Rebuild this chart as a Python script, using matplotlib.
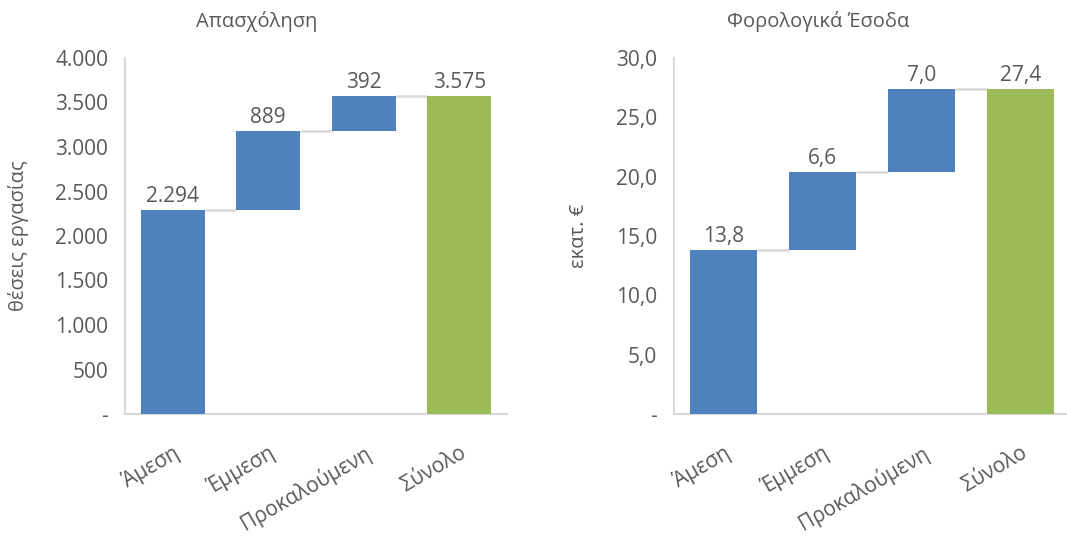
import matplotlib
matplotlib.use("Agg")
import matplotlib.pyplot as plt
from matplotlib.ticker import FuncFormatter

plt.rcParams['font.family'] = ['Open Sans', 'Noto Sans', 'DejaVu Sans']

categories = ["Άμεση", "Έμμεση", "Προκαλούμενη", "Σύνολο"]
jobs_steps = [2294, 889, 392]
jobs_total = 3575
tax_steps = [13.8, 6.6, 7.0]
tax_total = 27.4

title_jobs = "Απασχόληση"
title_tax = "Φορολογικά Έσοδα"
ylabel_jobs = "θέσεις εργασίας"
ylabel_tax = "εκατ. €"

BLUE = "#4F81BD"
GREEN = "#9BBB59"
TXT = "#595959"
GRID = "#D9D9D9"

W, H = 1067, 549
fig = plt.figure(figsize=(W / 100, H / 100), dpi=100)


def fmt_int(v):
    return f"{int(round(v)):,}".replace(",", ".")


def fmt_dec(v):
    return f"{v:.1f}".replace(".", ",")


def waterfall(ax, steps, total, ymax, ystep, fmt, ylabel):
    bw = 0.67
    bottoms = []
    cum = 0
    for s in steps:
        bottoms.append(cum)
        cum += s
    xs = list(range(len(steps) + 1))
    heights = list(steps) + [total]
    bots = bottoms + [0]
    colors = [BLUE] * len(steps) + [GREEN]
    ax.bar(xs, heights, bottom=bots, width=bw, color=colors, zorder=3)
    tops = [b + h for b, h in zip(bots, heights)]
    for i in range(len(xs) - 1):
        ax.plot([xs[i] + bw / 2, xs[i + 1] - bw / 2], [tops[i], tops[i]],
                color=GRID, lw=1.8, zorder=2, solid_capstyle='butt')
    for x, t, h in zip(xs, tops, heights):
        ax.annotate(fmt(h), (x, t), xytext=(0, 2), textcoords='offset points',
                    ha='center', va='bottom', fontsize=15, color=TXT)
    ax.set_xlim(-0.5, len(xs) - 0.5)
    ax.set_ylim(0, ymax)
    ticks = [ystep * i for i in range(int(round(ymax / ystep)) + 1)]
    ax.set_yticks(ticks)
    ax.yaxis.set_major_formatter(FuncFormatter(lambda v, p: "-" if v == 0 else fmt(v)))
    ax.set_xticks(xs)
    ax.set_xticklabels(categories, rotation=30, ha='right', rotation_mode='anchor')
    ax.tick_params(axis='y', length=0, pad=12, labelsize=15, labelcolor=TXT)
    ax.tick_params(axis='x', length=0, pad=20, labelsize=15, labelcolor=TXT)
    for sp in ['top', 'right']:
        ax.spines[sp].set_visible(False)
    for sp in ['left', 'bottom']:
        ax.spines[sp].set_color(GRID)
        ax.spines[sp].set_linewidth(1.5)
    ax.set_ylabel(ylabel, fontsize=14.5, color=TXT)


ax1 = fig.add_axes([125 / W, 1 - 414 / H, (507 - 125) / W, (414 - 58) / H])
waterfall(ax1, jobs_steps, jobs_total, 4000, 500, fmt_int, ylabel_jobs)
ax1.yaxis.set_label_coords(-(125 - 29) / (507 - 125), 0.5)

ax2 = fig.add_axes([674 / W, 1 - 414 / H, (1070 - 674) / W, (414 - 58) / H])
waterfall(ax2, tax_steps, tax_total, 30.0, 5.0, fmt_dec, ylabel_tax)
ax2.yaxis.set_label_coords(-(674 - 589) / (1070 - 674), 0.5)

fig.text(257 / W, 1 - 22 / H, title_jobs, ha='center', va='center', fontsize=14.5, color=TXT)
fig.text(818 / W, 1 - 22 / H, title_tax, ha='center', va='center', fontsize=14.5, color=TXT)

fig.savefig("out.png", dpi=100)
